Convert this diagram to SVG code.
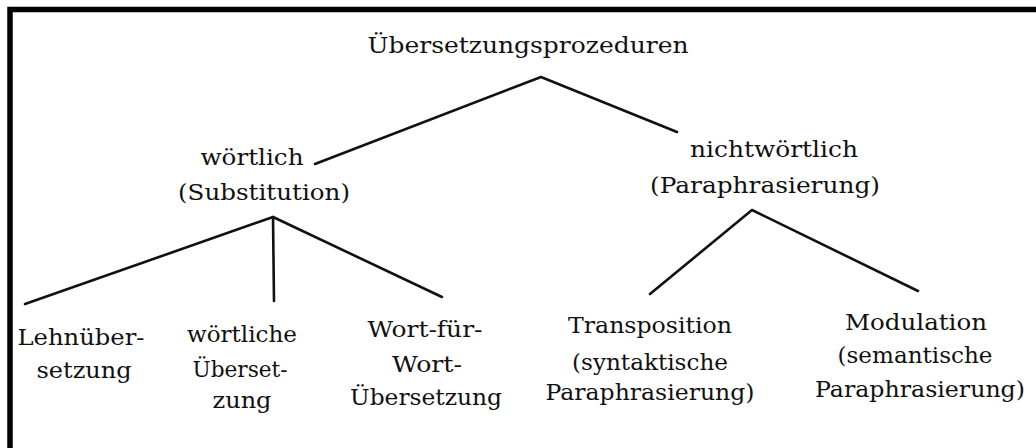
<svg xmlns="http://www.w3.org/2000/svg" width="1036" height="448" viewBox="0 0 1036 448">
<style>
text{font-family:"DejaVu Serif","Liberation Serif",serif;font-size:23px;fill:#111;text-anchor:middle}
.c{stroke:#111;stroke-width:2.6;fill:none;stroke-linecap:round;stroke-linejoin:round}
</style>
<rect width="1036" height="448" fill="#fff"/>
<path d="M10,448 V9.5 H1036" fill="none" stroke="#000" stroke-width="5.5"/>
<g id="connectors">
<polyline class="c" points="315,164 541,77 677,132"/>
<polyline class="c" points="25,304 273,217 442,297"/>
<line class="c" x1="273" y1="217" x2="274" y2="301"/>
<polyline class="c" points="650,294 752,210 918,291"/>
</g>
<g id="root"><text x="528" y="53" textLength="321" lengthAdjust="spacingAndGlyphs">Übersetzungsprozeduren</text></g>
<g id="woertlich"><text x="252" y="165" textLength="103" lengthAdjust="spacingAndGlyphs">wörtlich</text><text x="264" y="200" textLength="172" lengthAdjust="spacingAndGlyphs">(Substitution)</text></g>
<g id="nichtwoertlich"><text x="774" y="157" textLength="168" lengthAdjust="spacingAndGlyphs">nichtwörtlich</text><text x="765" y="193" textLength="230" lengthAdjust="spacingAndGlyphs">(Paraphrasierung)</text></g>
<g id="lehnuebersetzung"><text x="81" y="345" textLength="127" lengthAdjust="spacingAndGlyphs">Lehnüber-</text><text x="84" y="378" textLength="95" lengthAdjust="spacingAndGlyphs">setzung</text></g>
<g id="woertliche-uebersetzung"><text x="242" y="342" textLength="110" lengthAdjust="spacingAndGlyphs">wörtliche</text><text x="240" y="377" textLength="95" lengthAdjust="spacingAndGlyphs">Überset-</text><text x="242" y="408" textLength="59" lengthAdjust="spacingAndGlyphs">zung</text></g>
<g id="wort-fuer-wort"><text x="425" y="337" textLength="115" lengthAdjust="spacingAndGlyphs">Wort-für-</text><text x="427" y="372" textLength="70" lengthAdjust="spacingAndGlyphs">Wort-</text><text x="426" y="405" textLength="152" lengthAdjust="spacingAndGlyphs">Übersetzung</text></g>
<g id="transposition"><text x="650" y="333" textLength="164" lengthAdjust="spacingAndGlyphs">Transposition</text><text x="650" y="370" textLength="156" lengthAdjust="spacingAndGlyphs">(syntaktische</text><text x="650" y="400" textLength="209" lengthAdjust="spacingAndGlyphs">Paraphrasierung)</text></g>
<g id="modulation"><text x="916" y="330" textLength="142" lengthAdjust="spacingAndGlyphs">Modulation</text><text x="915" y="363" textLength="155" lengthAdjust="spacingAndGlyphs">(semantische</text><text x="920" y="397" textLength="210" lengthAdjust="spacingAndGlyphs">Paraphrasierung)</text></g>
</svg>
